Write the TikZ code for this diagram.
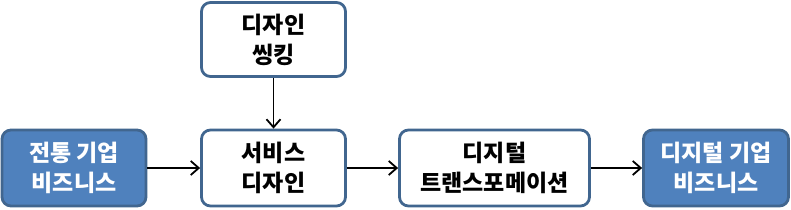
\documentclass[tikz,border=0pt]{standalone}
\usepackage{fontspec}
\setmainfont{Noto Sans CJK KR}
\usetikzlibrary{arrows.meta}
\definecolor{bordc}{HTML}{41668F}
\definecolor{fillb}{HTML}{4F81BD}
\tikzset{
  box/.style={draw=bordc, line width=2.8pt, rounded corners=9pt, align=center,
    font=\fontsize{23}{30}\selectfont\bfseries, inner sep=0pt},
  wbox/.style={box, fill=white, text=black},
  bbox/.style={box, fill=fillb, text=white},
  conn/.style={draw=black, line width=1.8pt, -{Straight Barb[length=8pt,width=14pt,line width=1.8pt]}}
}
\begin{document}
\begin{tikzpicture}[x=1pt,y=-1pt]
\useasboundingbox (0,0) rectangle (791,209);
\node[bbox, minimum width=144pt, minimum height=76pt] (a) at (74,168) {전통 기업\\비즈니스};
\node[wbox, minimum width=144pt, minimum height=74pt] (t) at (273.5,39.5) {디자인\\씽킹};
\node[wbox, minimum width=144pt, minimum height=76pt] (s) at (273.5,168) {서비스\\디자인};
\node[wbox, minimum width=190pt, minimum height=76pt] (d) at (494.5,168) {디지털\\트랜스포메이션};
\node[bbox, minimum width=145pt, minimum height=76pt] (e) at (716,168) {디지털 기업\\비즈니스};
\draw[conn] (a) -- (s);
\draw[conn] (t) -- (s);
\draw[conn] (s) -- (d);
\draw[conn] (d) -- (e);
\end{tikzpicture}
\end{document}
